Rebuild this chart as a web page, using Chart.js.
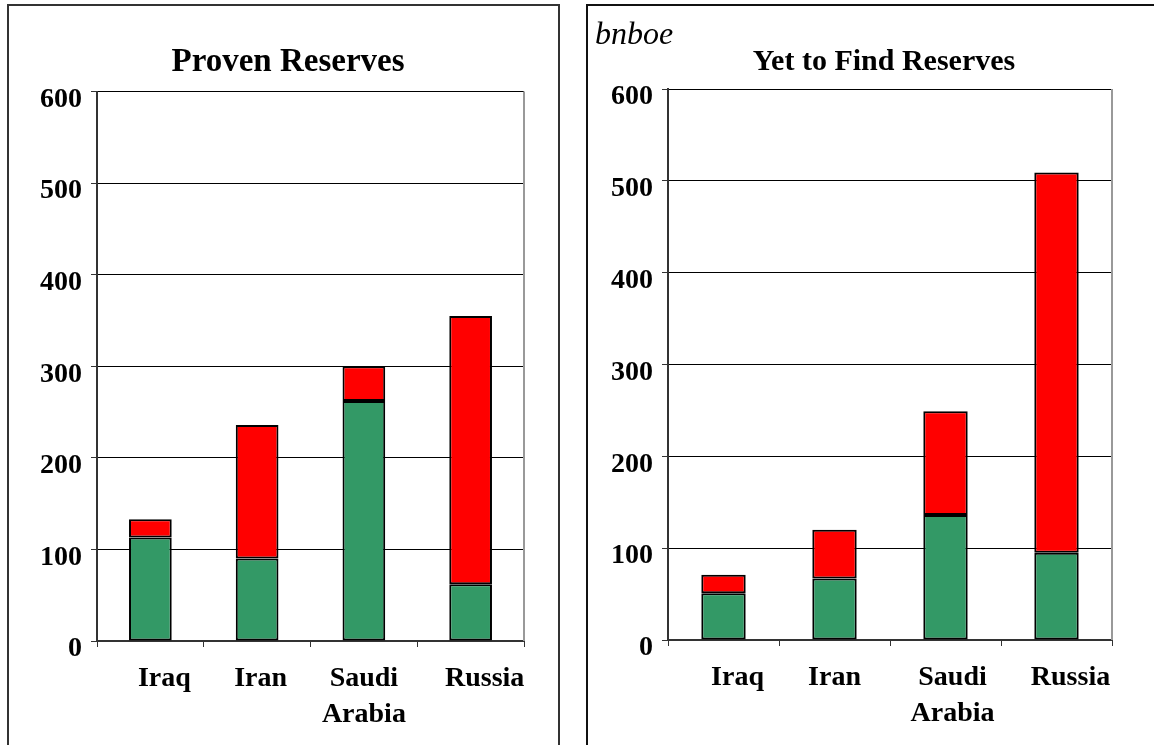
<!DOCTYPE html>
<html>
<head>
<meta charset="utf-8">
<script src="https://cdn.jsdelivr.net/npm/chart.js@4.4.0/dist/chart.umd.min.js"></script>
<style>
  html, body { margin: 0; padding: 0; background: #fff; overflow: hidden; }
  #page { position: relative; width: 1154px; height: 745px; overflow: hidden; }
  .panel { position: absolute; top: 4px; height: 800px; box-sizing: border-box; }
  #panel-left { left: 7px; width: 553px; border: 2px solid #333; }
  #panel-right { left: 586px; width: 700px; border: 2px solid #111; }
  canvas { position: absolute; top: 6px; }
  #c-left { left: 9px; }
  #c-right { left: 588px; }
  #unit { position: absolute; left: 595px; top: 15px; font: italic 32px 'Liberation Serif', 'Times New Roman', serif; color: #000; }
</style>
</head>
<body>
<div id="page">
  <div class="panel" id="panel-left"></div>
  <div class="panel" id="panel-right"></div>
  <canvas id="c-left" width="558" height="739"></canvas>
  <canvas id="c-right" width="592" height="739"></canvas>
  <div id="unit">bnboe</div>
</div>
<script>
// categorias e valores (bnboe)
const categories = ['Iraq', 'Iran', ['Saudi', 'Arabia'], 'Russia'];
const provenGreen = [113, 90, 262, 62];
const provenRed = [20, 146, 38, 293];
const yetGreen = [51, 67, 136, 95];
const yetRed = [20, 53, 113, 414];
const yTicks = [0, 100, 200, 300, 400, 500, 600];

const serif = "'Liberation Serif', 'Times New Roman', serif";

// borda cinza do lado direito da area do grafico
const rightEdge = {
  id: 'rightEdge',
  afterDraw(chart) {
    const { ctx, chartArea } = chart;
    ctx.save();
    ctx.strokeStyle = '#999';
    ctx.lineWidth = 2;
    ctx.beginPath();
    ctx.moveTo(chartArea.right, chartArea.top);
    ctx.lineTo(chartArea.right, chartArea.bottom);
    ctx.stroke();
    ctx.restore();
  }
};

function criarGrafico(id, titulo, verde, vermelho, cfg) {
  return new Chart(document.getElementById(id), {
    type: 'bar',
    data: {
      labels: categories,
      datasets: [
        {
          label: 'green',
          data: verde,
          backgroundColor: '#339966',
          borderColor: '#000',
          borderWidth: 2,
          borderSkipped: false
        },
        {
          label: 'red',
          data: vermelho,
          backgroundColor: '#ff0000',
          borderColor: '#000',
          borderWidth: 2,
          borderSkipped: false
        }
      ]
    },
    options: {
      responsive: false,
      animation: false,
      layout: { padding: 0 },
      plugins: {
        legend: { display: false },
        tooltip: { enabled: false },
        title: {
          display: true,
          text: titulo,
          color: '#000',
          font: { family: serif, size: cfg.titleSize, weight: 'bold', lineHeight: 1.2 },
          padding: { top: cfg.titleTop, bottom: cfg.titleBottom }
        }
      },
      datasets: { bar: { categoryPercentage: 1, barPercentage: 0.4 } },
      scales: {
        x: {
          stacked: true,
          grid: { display: true, drawOnChartArea: false, offset: true, tickLength: 6, color: '#333', lineWidth: 1 },
          border: { color: '#333', width: 2 },
          ticks: {
            color: '#000',
            padding: 14,
            maxRotation: 0,
            autoSkip: false,
            font: { family: serif, size: 28, weight: 'bold', lineHeight: 1.29 },
            // deslocamento dos rotulos como no original (espacos a esquerda)
            callback(value, index) {
              const pad = ' '.repeat(cfg.labelShift[index]);
              const lab = categories[index];
              return Array.isArray(lab) ? lab.map(l => pad + l) : pad + lab;
            }
          },
          afterFit(scale) { scale.height = cfg.xHeight; }
        },
        y: {
          stacked: true,
          min: 0,
          max: 600,
          afterBuildTicks(scale) { scale.ticks = yTicks.map(v => ({ value: v })); },
          grid: { color: '#000', lineWidth: 1, tickLength: 6, tickColor: '#333' },
          border: { color: '#333', width: 2 },
          ticks: {
            color: '#000',
            padding: 9,
            labelOffset: 8,
            font: { family: serif, size: 28, weight: 'bold' }
          },
          afterFit(scale) { scale.width = cfg.yWidth; }
        },
        // eixo vazio so para reservar o espaco da direita
        y2: {
          position: 'right',
          display: true,
          grid: { display: false },
          border: { display: false },
          ticks: { display: false },
          afterFit(scale) { scale.width = cfg.rightSpace; }
        }
      }
    },
    plugins: [rightEdge]
  });
}

criarGrafico('c-left', 'Proven Reserves', provenGreen, provenRed, {
  titleSize: 33, titleTop: 37, titleBottom: 9,
  xHeight: 104, yWidth: 88, rightSpace: 43,
  labelShift: [4, 1, 0, 4]
});
criarGrafico('c-right', 'Yet to Find Reserves', yetGreen, yetRed, {
  titleSize: 30, titleTop: 38, titleBottom: 9,
  xHeight: 105, yWidth: 80, rightSpace: 68,
  labelShift: [4, 0, 2, 4]
});
</script>
</body>
</html>
